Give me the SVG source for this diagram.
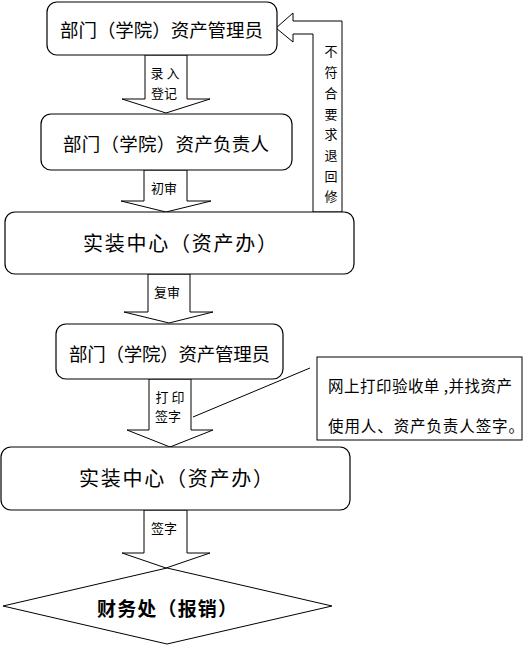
<svg xmlns="http://www.w3.org/2000/svg" width="529" height="646" viewBox="0 0 529 646">
<style>
.box{fill:#fff;stroke:#000;stroke-width:1.2}
.arr{fill:#fff;stroke:#000;stroke-width:1}
.t{font-family:"Noto Sans CJK SC","Noto Sans CJK JP",sans-serif;fill:#000;text-anchor:middle;dominant-baseline:central}
.s{text-anchor:start}
.big{font-size:18.5px}
.big2{font-size:20px}
.lab{font-size:13px}
.call{font-size:15.5px}
</style>
<rect width="529" height="646" fill="#fff"/>
<g id="connectors">
<polygon class="arr" points="145,55 187,55 187,99 210,99 166,113 122,99 145,99"/>
<polygon class="arr" points="144,170 187,170 187,201 211,201 166,212 121,201 144,201"/>
<polygon class="arr" points="148,274 190,274 190,312 213,312 169,323 124,312 148,312"/>
<polygon class="arr" points="149,379 191,379 191,430 213,430 170,447 127,430 149,430"/>
<polygon class="arr" points="144,510 187,510 187,553 210,553 166,568 122,553 144,553"/>
<polygon class="arr" points="276,28 293,13 293,21 342,21 342,212 313,212 313,34 293,34 293,42"/>
<line x1="193" y1="417" x2="310" y2="368" stroke="#000" stroke-width="1"/>
<text class="t lab" x="165" y="72">录 入</text>
<text class="t lab" x="164" y="92">登记</text>
<text class="t lab" x="164" y="187">初审</text>
<text class="t lab" x="167" y="291">复审</text>
<text class="t lab" x="170" y="396">打 印</text>
<text class="t lab" x="168" y="415">签字</text>
<text class="t lab" x="164" y="527">签字</text>
<text class="t lab" x="331" y="50">不</text>
<text class="t lab" x="331" y="71">符</text>
<text class="t lab" x="331" y="92">合</text>
<text class="t lab" x="331" y="113">要</text>
<text class="t lab" x="331" y="133">求</text>
<text class="t lab" x="331" y="154">退</text>
<text class="t lab" x="331" y="175">回</text>
<text class="t lab" x="331" y="195">修</text>
</g>
<g id="n1">
<rect class="box" x="47" y="2" width="230" height="53" rx="10"/>
<text class="t s big" x="60" y="29" textLength="203" lengthAdjust="spacing">部门（学院）资产管理员</text>
</g>
<g id="n2">
<rect class="box" x="41" y="114" width="251" height="56" rx="10"/>
<text class="t s big" x="63" y="143" textLength="206" lengthAdjust="spacing">部门（学院）资产负责人</text>
</g>
<g id="n3">
<rect class="box" x="5" y="212" width="349" height="62" rx="10"/>
<text class="t s big2" x="83" y="242" textLength="194" lengthAdjust="spacing">实装中心（资产办）</text>
</g>
<g id="n4">
<rect class="box" x="56" y="324" width="227" height="55" rx="10"/>
<text class="t s big" x="69" y="353" textLength="201" lengthAdjust="spacing">部门（学院）资产管理员</text>
</g>
<g id="note">
<rect x="317" y="357" width="205" height="83" fill="#fff" stroke="#000" stroke-width="1"/>
<text class="t s call" x="328" y="385" textLength="184" lengthAdjust="spacing">网上打印验收单 ,并找资产</text>
<text class="t s call" x="328" y="425" textLength="196" lengthAdjust="spacing">使用人、资产负责人签字。</text>
</g>
<g id="n5">
<rect class="box" x="1" y="447" width="349" height="63" rx="10"/>
<text class="t s big2" x="79" y="477" textLength="194" lengthAdjust="spacing">实装中心（资产办）</text>
</g>
<g id="n6">
<polygon points="167,568 332,606 167,644 3,606" fill="none" stroke="#000" stroke-width="1"/>
<text class="t s" x="97" y="607" textLength="140" lengthAdjust="spacing" style="font-size:19px;font-weight:bold">财务处（报销）</text>
</g>
</svg>
